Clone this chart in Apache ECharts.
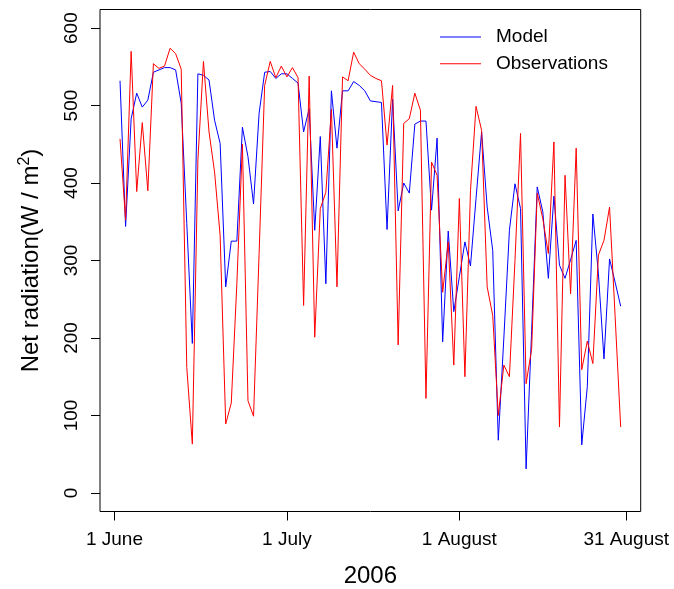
<!DOCTYPE html>
<html>
<head>
<meta charset="utf-8">
<script src="https://cdn.jsdelivr.net/npm/echarts@6/dist/echarts.min.js"></script>
<style>html,body{margin:0;padding:0;background:#fff}#c{width:674px;height:589px}</style>
</head>
<body>
<div id="c"></div>
<script>
var model = [532,344,483,516,498,507,543,546,549,549,
  546,503,348,193,541,539,533,481,451,266,
  325,325,472,434,373,490,543,544,535,541,
  541,535,529,466,496,339,460,270,519,445,
  519,519,531,526,519,506,505,504,340,508,
  364,400,387,476,480,480,365,458,195,338,
  234,279,324,293,380,466,369,313,68,200,
  339,399,367,31,210,395,363,277,383,294,
  277,301,326,62,137,360,283,173,302,272,241];
var observations = [457,352,570,389,478,390,554,548,551,574,
  567,547,162,63,430,557,466,414,332,89,
  116,270,450,119,99,309,526,557,536,551,
  537,549,536,242,538,201,367,388,495,266,
  537,532,569,554,547,539,535,532,449,526,
  191,477,483,516,494,122,427,410,259,324,
  165,380,150,390,499,468,266,229,100,165,
  150,300,464,141,186,387,354,309,453,85,
  410,257,445,159,196,167,307,326,369,228,85];
var xTickValues = [0, 31, 62, 92];
var xTickLabels = ['1 June', '1 July', '1 August', '31 August'];
var yTickValues = [0, 100, 200, 300, 400, 500, 600];

function pairs(arr){ return arr.map(function(v,i){ return [i+1, v]; }); }

var font = 'Liberation Sans, Arial, Helvetica, sans-serif';
var chart = echarts.init(document.getElementById('c'), null, {renderer:'canvas'});
chart.setOption({
  animation: false,
  backgroundColor: '#fff',
  textStyle: {fontFamily: font},
  grid: {left: 100, right: 33.3, top: 9.5, bottom: 77.5, show: true, borderColor: '#000', borderWidth: 1, backgroundColor: 'transparent', containLabel: false, outerBoundsMode: 'none'},
  legend: {
    orient: 'vertical', left: 435, top: 22,
    icon: 'rect', itemWidth: 41, itemHeight: 1, itemGap: 6.7,
    textStyle: {fontSize: 19, color: '#000', fontFamily: font, lineHeight: 20, padding: [0,0,0,10]},
    data: ['Model', 'Observations']
  },
  xAxis: {
    type: 'value', min: -2.6, max: 94.6,
    axisLine: {show: false, onZero: false},
    splitLine: {show: false},
    axisTick: {show: true, inside: false, length: 9, lineStyle: {color: '#000'}, customValues: xTickValues},
    axisLabel: {color: '#000', fontSize: 19, fontFamily: font, margin: 19, customValues: xTickValues,
      formatter: function(v){ var k = xTickValues.indexOf(v); return k >= 0 ? xTickLabels[k] : ''; }},
    name: '2006', nameLocation: 'middle', nameGap: 53,
    nameTextStyle: {fontSize: 24, color: '#000', fontFamily: font}
  },
  yAxis: {
    type: 'value', min: -24, max: 624,
    axisLine: {show: false, onZero: false},
    splitLine: {show: false},
    axisTick: {show: true, inside: false, length: 9, lineStyle: {color: '#000'}, customValues: yTickValues},
    axisLabel: {color: '#000', fontSize: 19, fontFamily: font, rotate: 90, margin: 19, customValues: yTickValues},
    name: 'Net radiation(W / m{sup|2})', nameLocation: 'middle', nameRotate: 90, nameGap: 55,
    nameTextStyle: {fontSize: 24, color: '#000', fontFamily: font,
      rich: {sup: {fontSize: 16, verticalAlign: 'top', padding: [0,0,12,0], fontFamily: font, color: '#000'}}}
  },
  series: [
    {name: 'Model', type: 'line', data: pairs(model), symbol: 'none', showSymbol: false,
     lineStyle: {color: '#0000ff', width: 1}, itemStyle: {color: '#0000ff'}},
    {name: 'Observations', type: 'line', data: pairs(observations), symbol: 'none', showSymbol: false,
     lineStyle: {color: '#ff0000', width: 1}, itemStyle: {color: '#ff0000'}}
  ]
});
</script>
</body>
</html>
